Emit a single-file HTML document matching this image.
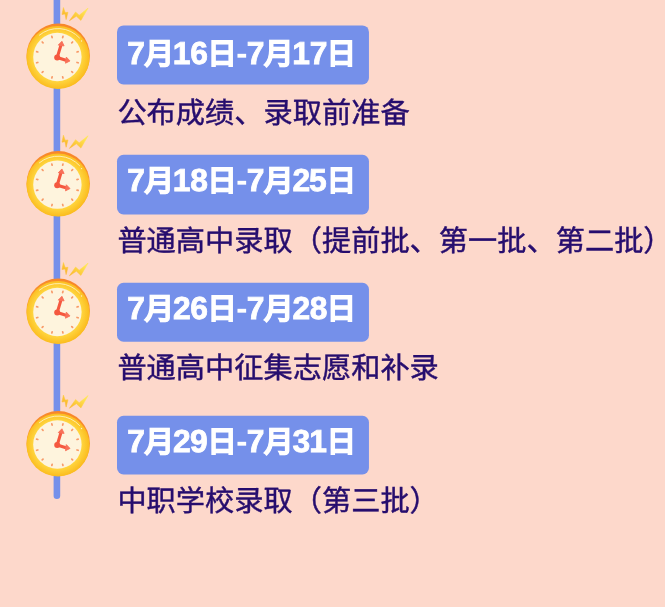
<!DOCTYPE html>
<html lang="zh-CN"><head><meta charset="utf-8">
<style>
html,body{margin:0;padding:0;}
body{width:665px;height:607px;background:#fdd8cb;position:relative;overflow:hidden;font-family:"Liberation Sans",sans-serif;}
</style></head><body>
<svg width="665" height="607" viewBox="0 0 665 607" style="position:absolute;left:0;top:0;text-rendering:geometricPrecision;filter:blur(0.4px)">
<defs><radialGradient id="ring" gradientUnits="userSpaceOnUse" cx="57.5" cy="57" r="31.5"><stop offset="0.76" stop-color="#ffd640"/><stop offset="1" stop-color="#fbbd20"/></radialGradient><linearGradient id="rim" x1="0.6" y1="0" x2="0.4" y2="1"><stop offset="0" stop-color="#f8862a"/><stop offset="0.6" stop-color="#f99a2a"/><stop offset="1" stop-color="#fbbd20"/></linearGradient>
<linearGradient id="bolt" gradientUnits="userSpaceOnUse" x1="80" y1="8" x2="72" y2="21"><stop offset="0" stop-color="#ffe552"/><stop offset="1" stop-color="#fbb82c"/></linearGradient></defs>
<rect x="53.6" y="-4" width="6.6" height="503" rx="3.3" fill="#7590ea"/>
<g transform="translate(0,0.00)">
<path d="M63.4,7.5 L62.0,14.5 L65.0,14.0 L66.1,19.6 L68.0,12.3 L65.2,12.6 Z" fill="url(#bolt)" stroke="url(#bolt)" stroke-width="0.5" stroke-linejoin="round"/>
<path d="M69.4,20.8 L75.6,12.0 L79.2,15.2 L88.1,8.1 L80.9,20.4 L76.4,16.2 Z" fill="url(#bolt)" stroke="url(#bolt)" stroke-width="0.5" stroke-linejoin="round"/>
<ellipse cx="58.2" cy="56.0" rx="31.7" ry="32.6" fill="url(#rim)"/>
<circle cx="58.0" cy="57.4" r="31.5" fill="url(#ring)"/>
<path d="M39.36,35.18 A29.0,29.0 0 0 1 79.55,38.00" stroke="#fff3c4" stroke-width="1.0" fill="none" opacity="0.85" stroke-linecap="round"/>
<circle cx="81.51" cy="40.94" r="0.7" fill="#fff6d6" opacity="0.9"/>
<circle cx="57.4" cy="57.0" r="24.2" fill="#fef4dd"/>
<path d="M62.65,37.59L62.96,36.43M71.75,42.85L72.60,42.00M77.01,51.95L78.17,51.64M77.01,62.45L78.17,62.76M71.75,71.55L72.60,72.40M62.65,76.81L62.96,77.97M52.15,76.81L51.84,77.97M43.05,71.55L42.20,72.40M37.79,62.45L36.63,62.76M37.79,51.95L36.63,51.64M43.05,42.85L42.20,42.00M52.15,37.59L51.84,36.43" stroke="#f89a68" stroke-width="1.7" stroke-linecap="round" fill="none"/>
<path d="M57.2,57.6 L60.8,45.6 M57.2,57.6 L65.9,60.2" stroke="#f5583f" stroke-width="3.1" stroke-linecap="round" fill="none"/>
<path d="M61.9,41.3 L64.1,45.9 L58.3,45.1 Z" fill="#f87058" stroke="#f87058" stroke-width="0.9" stroke-linejoin="round"/>
<path d="M70.0,60.9 L65.5,63.2 L66.3,57.1 Z" fill="#f87058" stroke="#f87058" stroke-width="0.9" stroke-linejoin="round"/>
<circle cx="57.2" cy="57.6" r="3.0" fill="#f5583f"/>
</g>
<g transform="translate(0,127.65)">
<path d="M63.4,7.5 L62.0,14.5 L65.0,14.0 L66.1,19.6 L68.0,12.3 L65.2,12.6 Z" fill="url(#bolt)" stroke="url(#bolt)" stroke-width="0.5" stroke-linejoin="round"/>
<path d="M69.4,20.8 L75.6,12.0 L79.2,15.2 L88.1,8.1 L80.9,20.4 L76.4,16.2 Z" fill="url(#bolt)" stroke="url(#bolt)" stroke-width="0.5" stroke-linejoin="round"/>
<ellipse cx="58.2" cy="56.0" rx="31.7" ry="32.6" fill="url(#rim)"/>
<circle cx="58.0" cy="57.4" r="31.5" fill="url(#ring)"/>
<path d="M39.36,35.18 A29.0,29.0 0 0 1 79.55,38.00" stroke="#fff3c4" stroke-width="1.0" fill="none" opacity="0.85" stroke-linecap="round"/>
<circle cx="81.51" cy="40.94" r="0.7" fill="#fff6d6" opacity="0.9"/>
<circle cx="57.4" cy="57.0" r="24.2" fill="#fef4dd"/>
<path d="M62.65,37.59L62.96,36.43M71.75,42.85L72.60,42.00M77.01,51.95L78.17,51.64M77.01,62.45L78.17,62.76M71.75,71.55L72.60,72.40M62.65,76.81L62.96,77.97M52.15,76.81L51.84,77.97M43.05,71.55L42.20,72.40M37.79,62.45L36.63,62.76M37.79,51.95L36.63,51.64M43.05,42.85L42.20,42.00M52.15,37.59L51.84,36.43" stroke="#f89a68" stroke-width="1.7" stroke-linecap="round" fill="none"/>
<path d="M57.2,57.6 L60.8,45.6 M57.2,57.6 L65.9,60.2" stroke="#f5583f" stroke-width="3.1" stroke-linecap="round" fill="none"/>
<path d="M61.9,41.3 L64.1,45.9 L58.3,45.1 Z" fill="#f87058" stroke="#f87058" stroke-width="0.9" stroke-linejoin="round"/>
<path d="M70.0,60.9 L65.5,63.2 L66.3,57.1 Z" fill="#f87058" stroke="#f87058" stroke-width="0.9" stroke-linejoin="round"/>
<circle cx="57.2" cy="57.6" r="3.0" fill="#f5583f"/>
</g>
<g transform="translate(0,255.00)">
<path d="M63.4,7.5 L62.0,14.5 L65.0,14.0 L66.1,19.6 L68.0,12.3 L65.2,12.6 Z" fill="url(#bolt)" stroke="url(#bolt)" stroke-width="0.5" stroke-linejoin="round"/>
<path d="M69.4,20.8 L75.6,12.0 L79.2,15.2 L88.1,8.1 L80.9,20.4 L76.4,16.2 Z" fill="url(#bolt)" stroke="url(#bolt)" stroke-width="0.5" stroke-linejoin="round"/>
<ellipse cx="58.2" cy="56.0" rx="31.7" ry="32.6" fill="url(#rim)"/>
<circle cx="58.0" cy="57.4" r="31.5" fill="url(#ring)"/>
<path d="M39.36,35.18 A29.0,29.0 0 0 1 79.55,38.00" stroke="#fff3c4" stroke-width="1.0" fill="none" opacity="0.85" stroke-linecap="round"/>
<circle cx="81.51" cy="40.94" r="0.7" fill="#fff6d6" opacity="0.9"/>
<circle cx="57.4" cy="57.0" r="24.2" fill="#fef4dd"/>
<path d="M62.65,37.59L62.96,36.43M71.75,42.85L72.60,42.00M77.01,51.95L78.17,51.64M77.01,62.45L78.17,62.76M71.75,71.55L72.60,72.40M62.65,76.81L62.96,77.97M52.15,76.81L51.84,77.97M43.05,71.55L42.20,72.40M37.79,62.45L36.63,62.76M37.79,51.95L36.63,51.64M43.05,42.85L42.20,42.00M52.15,37.59L51.84,36.43" stroke="#f89a68" stroke-width="1.7" stroke-linecap="round" fill="none"/>
<path d="M57.2,57.6 L60.8,45.6 M57.2,57.6 L65.9,60.2" stroke="#f5583f" stroke-width="3.1" stroke-linecap="round" fill="none"/>
<path d="M61.9,41.3 L64.1,45.9 L58.3,45.1 Z" fill="#f87058" stroke="#f87058" stroke-width="0.9" stroke-linejoin="round"/>
<path d="M70.0,60.9 L65.5,63.2 L66.3,57.1 Z" fill="#f87058" stroke="#f87058" stroke-width="0.9" stroke-linejoin="round"/>
<circle cx="57.2" cy="57.6" r="3.0" fill="#f5583f"/>
</g>
<g transform="translate(0,387.50)">
<path d="M63.4,7.5 L62.0,14.5 L65.0,14.0 L66.1,19.6 L68.0,12.3 L65.2,12.6 Z" fill="url(#bolt)" stroke="url(#bolt)" stroke-width="0.5" stroke-linejoin="round"/>
<path d="M69.4,20.8 L75.6,12.0 L79.2,15.2 L88.1,8.1 L80.9,20.4 L76.4,16.2 Z" fill="url(#bolt)" stroke="url(#bolt)" stroke-width="0.5" stroke-linejoin="round"/>
<ellipse cx="58.2" cy="56.0" rx="31.7" ry="32.6" fill="url(#rim)"/>
<circle cx="58.0" cy="57.4" r="31.5" fill="url(#ring)"/>
<path d="M39.36,35.18 A29.0,29.0 0 0 1 79.55,38.00" stroke="#fff3c4" stroke-width="1.0" fill="none" opacity="0.85" stroke-linecap="round"/>
<circle cx="81.51" cy="40.94" r="0.7" fill="#fff6d6" opacity="0.9"/>
<circle cx="57.4" cy="57.0" r="24.2" fill="#fef4dd"/>
<path d="M62.65,37.59L62.96,36.43M71.75,42.85L72.60,42.00M77.01,51.95L78.17,51.64M77.01,62.45L78.17,62.76M71.75,71.55L72.60,72.40M62.65,76.81L62.96,77.97M52.15,76.81L51.84,77.97M43.05,71.55L42.20,72.40M37.79,62.45L36.63,62.76M37.79,51.95L36.63,51.64M43.05,42.85L42.20,42.00M52.15,37.59L51.84,36.43" stroke="#f89a68" stroke-width="1.7" stroke-linecap="round" fill="none"/>
<path d="M57.2,57.6 L60.8,45.6 M57.2,57.6 L65.9,60.2" stroke="#f5583f" stroke-width="3.1" stroke-linecap="round" fill="none"/>
<path d="M61.9,41.3 L64.1,45.9 L58.3,45.1 Z" fill="#f87058" stroke="#f87058" stroke-width="0.9" stroke-linejoin="round"/>
<path d="M70.0,60.9 L65.5,63.2 L66.3,57.1 Z" fill="#f87058" stroke="#f87058" stroke-width="0.9" stroke-linejoin="round"/>
<circle cx="57.2" cy="57.6" r="3.0" fill="#f5583f"/>
</g>
<rect x="117.0" y="25.4" width="251.95" height="59.05" rx="6.5" fill="#7590ea"/>
<rect x="117.0" y="154.8" width="251.95" height="59.65" rx="6.5" fill="#7590ea"/>
<rect x="117.0" y="282.8" width="251.95" height="58.95" rx="6.5" fill="#7590ea"/>
<rect x="117.0" y="415.8" width="251.95" height="58.65" rx="6.5" fill="#7590ea"/>
<g fill="#ffffff" stroke="#ffffff" font-weight="bold" style="font-family:'Liberation Sans',sans-serif">
<text x="127.28" y="64.00" font-size="31.8" stroke-width="0.8">7</text>
<text x="144.54" y="64.00" font-size="29.6" stroke-width="1.1">月</text>
<text x="172.87" y="64.00" font-size="31.8" stroke-width="0.8">1</text>
<text x="190.27" y="64.00" font-size="31.8" stroke-width="0.8">6</text>
<text x="207.13" y="64.00" font-size="29.6" stroke-width="1.1">日</text>
<rect x="237.47" y="53.82" width="8.68" height="3.86" stroke="none"/>
<text x="246.76" y="64.00" font-size="31.8" stroke-width="0.8">7</text>
<text x="264.02" y="64.00" font-size="29.6" stroke-width="1.1">月</text>
<text x="292.35" y="64.00" font-size="31.8" stroke-width="0.8">1</text>
<text x="309.67" y="64.00" font-size="31.8" stroke-width="0.8">7</text>
<text x="326.61" y="64.00" font-size="29.6" stroke-width="1.1">日</text>
<text x="127.28" y="191.00" font-size="31.8" stroke-width="0.8">7</text>
<text x="144.54" y="191.00" font-size="29.6" stroke-width="1.1">月</text>
<text x="172.87" y="191.00" font-size="31.8" stroke-width="0.8">1</text>
<text x="190.17" y="191.00" font-size="31.8" stroke-width="0.8">8</text>
<text x="207.13" y="191.00" font-size="29.6" stroke-width="1.1">日</text>
<rect x="237.47" y="180.82" width="8.68" height="3.86" stroke="none"/>
<text x="246.76" y="191.00" font-size="31.8" stroke-width="0.8">7</text>
<text x="264.02" y="191.00" font-size="29.6" stroke-width="1.1">月</text>
<text x="292.43" y="191.00" font-size="31.8" stroke-width="0.8">2</text>
<text x="309.12" y="191.00" font-size="31.8" stroke-width="0.8">5</text>
<text x="326.61" y="191.00" font-size="29.6" stroke-width="1.1">日</text>
<text x="127.28" y="319.00" font-size="31.8" stroke-width="0.8">7</text>
<text x="144.54" y="319.00" font-size="29.6" stroke-width="1.1">月</text>
<text x="172.95" y="319.00" font-size="31.8" stroke-width="0.8">2</text>
<text x="190.27" y="319.00" font-size="31.8" stroke-width="0.8">6</text>
<text x="207.13" y="319.00" font-size="29.6" stroke-width="1.1">日</text>
<rect x="237.47" y="308.82" width="8.68" height="3.86" stroke="none"/>
<text x="246.76" y="319.00" font-size="31.8" stroke-width="0.8">7</text>
<text x="264.02" y="319.00" font-size="29.6" stroke-width="1.1">月</text>
<text x="292.43" y="319.00" font-size="31.8" stroke-width="0.8">2</text>
<text x="309.65" y="319.00" font-size="31.8" stroke-width="0.8">8</text>
<text x="326.61" y="319.00" font-size="29.6" stroke-width="1.1">日</text>
<text x="127.28" y="452.00" font-size="31.8" stroke-width="0.8">7</text>
<text x="144.54" y="452.00" font-size="29.6" stroke-width="1.1">月</text>
<text x="172.95" y="452.00" font-size="31.8" stroke-width="0.8">2</text>
<text x="190.02" y="452.00" font-size="31.8" stroke-width="0.8">9</text>
<text x="207.13" y="452.00" font-size="29.6" stroke-width="1.1">日</text>
<rect x="237.47" y="441.82" width="8.68" height="3.86" stroke="none"/>
<text x="246.76" y="452.00" font-size="31.8" stroke-width="0.8">7</text>
<text x="264.02" y="452.00" font-size="29.6" stroke-width="1.1">月</text>
<text x="292.43" y="452.00" font-size="31.8" stroke-width="0.8">3</text>
<text x="309.37" y="452.00" font-size="31.8" stroke-width="0.8">1</text>
<text x="326.61" y="452.00" font-size="29.6" stroke-width="1.1">日</text>
</g>
<g fill="#260d6e" stroke="#260d6e" stroke-width="0.45" font-size="29.2" style="font-family:'Liberation Sans',sans-serif">
<text x="117.40 146.62 175.84 205.06 234.28 263.50 292.72 321.94 351.16 380.38" y="123">公布成绩、录取前准备</text>
<text x="117.40 146.62 175.84 205.06 234.28 263.50 292.72 321.94 351.16 380.38 409.60 438.82 468.04 497.26 526.48 555.70 584.92 614.14 643.36" y="251">普通高中录取（提前批、第一批、第二批）</text>
<text x="117.40 146.62 175.84 205.06 234.28 263.50 292.72 321.94 351.16 380.38 409.60" y="378">普通高中征集志愿和补录</text>
<text x="117.40 146.62 175.84 205.06 234.28 263.50 292.72 321.94 351.16 380.38 409.60" y="511">中职学校录取（第三批）</text>
</g></svg>
</body></html>
